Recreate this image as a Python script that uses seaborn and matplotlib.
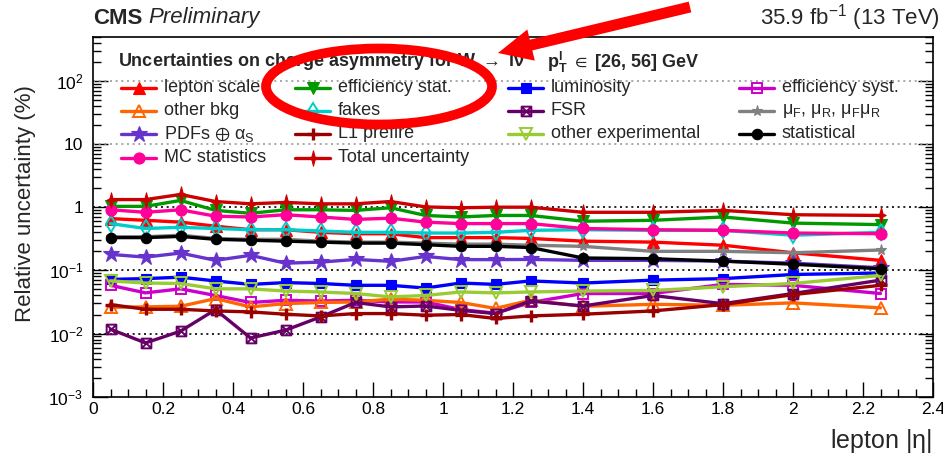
import numpy as np
import pandas as pd
import matplotlib
matplotlib.use("Agg")
import matplotlib.pyplot as plt
import seaborn as sns
from matplotlib.path import Path
from matplotlib.lines import Line2D
from matplotlib.patches import Ellipse, FancyArrow
from matplotlib.transforms import Affine2D
from matplotlib.ticker import FixedLocator, FuncFormatter, NullFormatter

# ---------------------------------------------------------------- data
eta = [0.05, 0.15, 0.25, 0.35, 0.45, 0.55, 0.65, 0.75, 0.85, 0.95,
       1.05, 1.15, 1.25, 1.4, 1.6, 1.8, 2.0, 2.25]

lepton_scale = [0.66, 0.62, 0.58, 0.50, 0.44, 0.44, 0.40, 0.38, 0.38, 0.33,
                0.33, 0.33, 0.32, 0.29, 0.28, 0.25, 0.19, 0.144]
efficiency_stat = [1.03, 1.03, 1.28, 0.89, 0.80, 0.91, 0.91, 0.89, 0.98, 0.74,
                   0.70, 0.74, 0.74, 0.60, 0.62, 0.70, 0.56, 0.53]
luminosity = [0.072, 0.074, 0.078, 0.068, 0.060, 0.064, 0.062, 0.058, 0.058, 0.0525,
              0.063, 0.060, 0.068, 0.063, 0.070, 0.074, 0.086, 0.091]
efficiency_syst = [0.058, 0.044, 0.051, 0.040, 0.031, 0.0336, 0.0327, 0.0336, 0.0316, 0.0316,
                   0.024, 0.021, 0.031, 0.043, 0.043, 0.060, 0.058, 0.043]
other_bkg = [0.026, 0.0264, 0.027, 0.0357, 0.0264, 0.0298, 0.031, 0.0316, 0.035, 0.0336,
             0.031, 0.025, 0.0336, 0.027, 0.029, 0.028, 0.0306, 0.0255]
fakes = [0.55, 0.46, 0.48, 0.46, 0.44, 0.44, 0.42, 0.40, 0.40, 0.39,
         0.39, 0.40, 0.43, 0.44, 0.43, 0.43, 0.36, 0.40]
fsr = [0.0117, 0.0071, 0.0109, 0.0239, 0.0085, 0.0113, 0.0183, 0.031, 0.0264, 0.0273,
       0.0233, 0.0207, 0.0327, 0.0273, 0.040, 0.0297, 0.043, 0.070]
qcd_scales = [0.34, 0.34, 0.36, 0.32, 0.31, 0.31, 0.29, 0.28, 0.28, 0.27,
              0.26, 0.26, 0.25, 0.24, 0.20, 0.20, 0.19, 0.21]
pdfs_alphas = [0.179, 0.162, 0.188, 0.144, 0.173, 0.130, 0.135, 0.149, 0.139, 0.166,
               0.148, 0.148, 0.149, 0.144, 0.144, 0.14, 0.13, 0.11]
l1_prefire = [0.0287, 0.0242, 0.0242, 0.0228, 0.022, 0.0202, 0.019, 0.0207, 0.0207, 0.0195,
              0.020, 0.0173, 0.0190, 0.0202, 0.0228, 0.0287, 0.0413, 0.058]
other_experimental = [0.068, 0.063, 0.062, 0.051, 0.051, 0.047, 0.0455, 0.043, 0.038, 0.040,
                      0.0455, 0.044, 0.0455, 0.047, 0.048, 0.055, 0.062, 0.083]
statistical = [0.33, 0.33, 0.345, 0.31, 0.30, 0.29, 0.28, 0.27, 0.27, 0.255,
               0.24, 0.24, 0.23, 0.157, 0.153, 0.14, 0.125, 0.106]
mc_statistics = [0.91, 0.83, 0.91, 0.72, 0.70, 0.76, 0.70, 0.64, 0.67, 0.58,
                 0.55, 0.55, 0.55, 0.46, 0.44, 0.43, 0.39, 0.38]
total_uncertainty = [1.32, 1.32, 1.59, 1.23, 1.13, 1.19, 1.13, 1.13, 1.23, 1.01,
                     0.98, 1.0, 1.0, 0.83, 0.83, 0.89, 0.76, 0.74]

x_ticks = [0, 0.2, 0.4, 0.6, 0.8, 1, 1.2, 1.4, 1.6, 1.8, 2, 2.2, 2.4]

# ---------------------------------------------------------------- markers
box_times = Path(
    [(-1, -1), (1, -1), (1, 1), (-1, 1), (-1, -1), (-1, -1), (1, 1), (-1, 1), (1, -1)],
    [Path.MOVETO, Path.LINETO, Path.LINETO, Path.LINETO, Path.CLOSEPOLY,
     Path.MOVETO, Path.LINETO, Path.MOVETO, Path.LINETO])
four_star = Path(
    [(0, 1.0), (0.2, 0.2), (0.62, 0), (0.2, -0.2), (0, -1.0), (-0.2, -0.2),
     (-0.62, 0), (-0.2, 0.2), (0, 1.0)],
    [Path.MOVETO] + [Path.LINETO] * 7 + [Path.CLOSEPOLY])

# name, label, values, color, marker, open, size
series = [
    ("lepton_scale", "lepton scale", lepton_scale, "#ff0000", "^", False, 8.5),
    ("efficiency_stat", "efficiency stat.", efficiency_stat, "#009900", "v", False, 8.5),
    ("luminosity", "luminosity", luminosity, "#0000ff", "s", False, 7.5),
    ("efficiency_syst", "efficiency syst.", efficiency_syst, "#cc00cc", "s", True, 7.5),
    ("other_bkg", "other bkg", other_bkg, "#ff6600", "^", True, 8.5),
    ("fakes", "fakes", fakes, "#00cccc", "d", True, 8.5),
    ("fsr", "FSR", fsr, "#660066", box_times, True, 7.0),
    ("qcd_scales", r"$\mu_{F}$, $\mu_{R}$, $\mu_{F}\mu_{R}$", qcd_scales, "#808080", "*", False, 8.0),
    ("pdfs_alphas", r"PDFs $\oplus$ $\alpha_{S}$", pdfs_alphas, "#6633cc", "*", False, 12.0),
    ("l1_prefire", "L1 prefire", l1_prefire, "#990000", "+", False, 9.0),
    ("other_experimental", "other experimental", other_experimental, "#99cc33", "v", True, 8.5),
    ("statistical", "statistical", statistical, "#000000", "o", False, 7.5),
    ("mc_statistics", "MC statistics", mc_statistics, "#ff0099", "o", False, 8.0),
    ("total_uncertainty", "Total uncertainty", total_uncertainty, "#cc0000", four_star, False, 11.0),
]

# ---------------------------------------------------------------- style
sns.set_theme(style="ticks")
plt.rcParams["font.family"] = ["Liberation Sans", "DejaVu Sans"]
plt.rcParams["mathtext.fontset"] = "custom"
plt.rcParams["mathtext.rm"] = "Liberation Sans"
plt.rcParams["mathtext.it"] = "Liberation Sans:italic"
plt.rcParams["mathtext.bf"] = "Liberation Sans:bold"
plt.rcParams["mathtext.fallback"] = "stixsans"
plt.rcParams["mathtext.default"] = "regular"

W, H = 943, 457
fig = plt.figure(figsize=(W / 100, H / 100), dpi=100)
fig.patch.set_facecolor("white")
ax = fig.add_axes([93 / W, 1 - 396.7 / H, 840 / W, 360 / H])
ax.set_facecolor("white")

# pixel coordinates (y downward) for decorations outside the data scale
PX = Affine2D().scale(1 / W, -1 / H).translate(0, 1) + fig.transFigure


def marker_kwargs(color, marker, hollow, size):
    kw = dict(marker=marker, markersize=size, markeredgecolor=color)
    if marker == "+":
        kw["markeredgewidth"] = 2.4
    elif hollow:
        kw["markerfacecolor"] = "none"
        kw["markeredgewidth"] = 1.4
    else:
        kw["markerfacecolor"] = color
        kw["markeredgewidth"] = 0.8
    return kw


# ---------------------------------------------------------------- curves
for i, (name, label, vals, color, marker, hollow, size) in enumerate(series):
    df = pd.DataFrame({"eta": eta, "unc": vals})
    sns.lineplot(data=df, x="eta", y="unc", ax=ax, color=color, linewidth=2.4,
                 sort=False, estimator=None, errorbar=None, legend=False,
                 zorder=3 + i * 0.1, **marker_kwargs(color, marker, hollow, size))

ax.set_yscale("log")
ax.set_xlim(0, 2.4)
ax.set_ylim(1e-3, 500)

# dotted grid lines at the decades
for dec in [1e-2, 1e-1, 1, 10, 100]:
    shade = "#000000" if dec <= 1 else "#999999"
    ax.axhline(dec, color=shade, linestyle=(0, (1.2, 2.2)), linewidth=1.2, zorder=1)

# axes frame and ticks
for side in ax.spines.values():
    side.set_linewidth(1.2)
    side.set_color("black")
ax.xaxis.set_major_locator(FixedLocator(x_ticks))
ax.xaxis.set_minor_locator(FixedLocator(np.arange(0, 2.401, 0.05)))
ax.xaxis.set_major_formatter(FuncFormatter(lambda v, p: f"{v:g}"))
ax.yaxis.set_major_locator(FixedLocator([1e-3, 1e-2, 1e-1, 1, 10, 100]))
ax.yaxis.set_minor_locator(FixedLocator(
    [m * 10.0 ** e for e in range(-3, 3) for m in range(2, 10)]))


def decade_label(v, pos):
    e = int(round(np.log10(v)))
    if e == 0:
        return "1"
    if e == 1:
        return "10"
    return r"$10^{%d}$" % e


ax.yaxis.set_major_formatter(FuncFormatter(decade_label))
ax.yaxis.set_minor_formatter(NullFormatter())
ax.tick_params(axis="x", which="both", direction="in", bottom=True, top=False,
               labelsize=12.5, pad=4, colors="black")
ax.tick_params(axis="x", which="major", length=11, width=1.0)
ax.tick_params(axis="x", which="minor", length=5.5, width=1.0)
ax.tick_params(axis="y", which="both", direction="in", left=True, right=True,
               labelsize=12.5, pad=7, colors="black")
ax.tick_params(axis="y", which="major", length=11, width=1.0)
ax.tick_params(axis="y", which="minor", length=6, width=1.0)
ax.set_xlabel("")
ax.set_ylabel("")

# axis titles
fig.text(26, 204, "Relative uncertainty (%)", transform=PX, rotation=90,
         ha="center", va="center", fontsize=16)
fig.text(932, 441, r"lepton |$\eta$|", transform=PX, ha="right", va="center",
         fontsize=18)

# header texts
fig.text(93, 18, "CMS", transform=PX, ha="left", va="center", fontsize=16,
         fontweight="bold")
fig.text(148, 18, "Preliminary", transform=PX, ha="left", va="center",
         fontsize=16, style="italic")
fig.text(940, 18, r"35.9 fb$^{-1}$ (13 TeV)", transform=PX, ha="right",
         va="center", fontsize=16)

# ---------------------------------------------------------------- legend
fig.text(118, 62, r"Uncertainties on charge asymmetry for W $\rightarrow$ l$\nu$",
         transform=PX, ha="left", va="center", fontsize=13, fontweight="bold")
fig.text(547, 62, r"$\mathbf{p}_{\mathbf{T}}^{\mathbf{l}}$ $\in$ [26, 56] GeV",
         transform=PX, ha="left", va="center", fontsize=13, fontweight="bold")

col_x = [121, 295, 508, 739]
row_y = [87.5, 110.5, 134, 157.5]
# four columns filled row by row
for k, (name, label, vals, color, marker, hollow, size) in enumerate(series):
    r, c = divmod(k, 4)
    x0 = col_x[c]
    y0 = row_y[r]
    sample = Line2D([x0, x0 + 17.5, x0 + 35], [y0, y0, y0], transform=PX,
                    color=color, linewidth=2.4, markevery=[1],
                    **marker_kwargs(color, marker, hollow, size))
    fig.add_artist(sample)
    fig.text(x0 + 43, y0, label, transform=PX, ha="left", va="center",
             fontsize=13)

# ---------------------------------------------------------------- highlight
ring = Ellipse((379, 86.5), 226, 76, transform=PX, fill=False,
               edgecolor="#ff0000", linewidth=7.0, zorder=20)
fig.add_artist(ring)
pointer = FancyArrow(690, 7, 498 - 690, 53 - 7, width=11, head_width=32,
                     head_length=34, length_includes_head=True, transform=PX,
                     color="#ff0000", linewidth=0, zorder=20)
fig.add_artist(pointer)

fig.savefig("out.png", dpi=100)
